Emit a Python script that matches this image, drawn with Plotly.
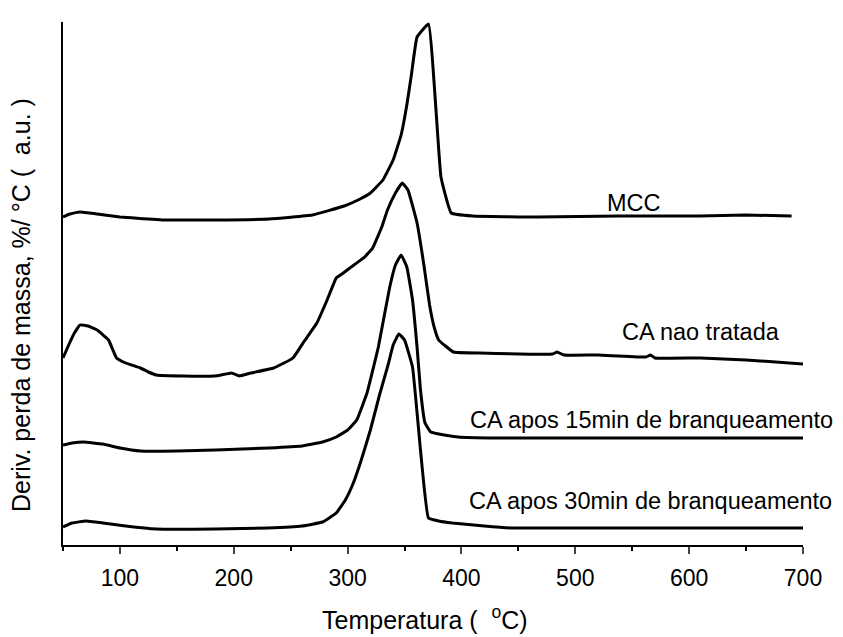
import plotly.graph_objects as go

# Temperature (°C) and derivative mass loss (arbitrary units, offset curves)
mcc_T = [50, 56, 65, 80, 100, 113, 140, 184, 231, 269, 297, 311, 320, 331, 340, 347, 352, 356, 361, 371, 382, 391, 410, 467, 538, 609, 650, 690]
mcc_v = [328, 331, 333, 331, 328, 327, 325, 325, 326, 330, 339, 346, 352, 365, 385, 410, 440, 470, 508, 521, 368, 332, 329, 328, 329, 329, 330, 329]

nao_T = [50, 55, 60, 65, 72, 80, 90, 97, 105, 118, 125, 132, 155, 183, 189, 198, 205, 215, 235, 252, 262, 273, 282, 290, 295, 302, 315, 322, 330, 335, 342, 348, 353, 361, 367, 372, 376, 380, 393, 416, 480, 484, 490, 520, 562, 566, 570, 610, 650, 700]
nao_v = [187, 200, 212, 220, 219, 215, 205, 187, 182, 177, 173, 170, 169, 169, 170, 172, 169, 172, 177, 187, 204, 222, 245, 267, 271, 277, 288, 297, 318, 335, 352, 362, 355, 322, 280, 240, 218, 205, 193, 192, 191, 193, 190, 190, 188, 190, 187, 187, 185, 181]

m15_T = [50, 58, 68, 85, 100, 118, 150, 184, 231, 260, 278, 290, 300, 308, 317, 327, 337, 342, 347, 352, 357, 361, 364, 368, 373, 385, 397, 430, 468, 550, 620, 700]
m15_v = [100, 102, 103, 101, 97, 94, 94, 95, 97, 99, 103, 108, 115, 125, 152, 198, 258, 280, 290, 278, 245, 198, 155, 122, 113, 110, 108, 107, 107, 107, 107, 107]

m30_T = [50, 58, 70, 85, 105, 132, 184, 230, 260, 278, 290, 298, 305, 312, 320, 328, 336, 340, 345, 350, 357, 364, 371, 380, 392, 420, 444, 550, 620, 700]
m30_v = [18, 22, 24, 22, 19, 16, 16, 17, 19, 23, 32, 45, 62, 85, 115, 150, 182, 200, 211, 205, 178, 95, 27, 24, 22, 19, 17, 17, 17, 17]

x_ticks = [100, 200, 300, 400, 500, 600, 700]

labels = ["MCC", "CA nao tratada", "CA apos 15min de branqueamento", "CA apos 30min de branqueamento"]
label_x = [634, 701, 651, 650]
label_y = [203, 332, 420, 501]

x_title = "Temperatura (  <sup>o</sup>C)"
y_title = "Deriv. perda de massa, %/ °C (  a.u. )"

# page body adds an 8px offset; work in window pixels and subtract it
OFF = 8
W, H = 843 - OFF, 637 - OFF
L, Tp = 63 - OFF, 22 - OFF
R = W - (803 - OFF)
B = H - (545 - OFF)
pw, ph = W - L - R, H - Tp - B

def px_x(p):
    return (p - OFF - L) / pw

def px_y(p):
    return 1 - (p - OFF - Tp) / ph

FONT = "Liberation Sans, Arial"

fig = go.Figure()
for T, v in [(mcc_T, mcc_v), (nao_T, nao_v), (m15_T, m15_v), (m30_T, m30_v)]:
    fig.add_trace(go.Scatter(x=T, y=v, mode="lines",
                             line=dict(color="black", width=3, shape="spline", smoothing=0.3),
                             showlegend=False, hoverinfo="skip"))

for txt, px, py in zip(labels, label_x, label_y):
    fig.add_annotation(text=txt, x=px_x(px), y=px_y(py), xref="paper", yref="paper",
                       xanchor="center", yanchor="middle", showarrow=False,
                       font=dict(size=23.5, color="black", family=FONT))

fig.add_annotation(text=x_title, x=px_x(425), y=px_y(618), xref="paper", yref="paper",
                   xanchor="center", yanchor="middle", showarrow=False,
                   font=dict(size=25, color="black", family=FONT))
fig.add_annotation(text=y_title, x=px_x(21), y=px_y(305), xref="paper", yref="paper",
                   xanchor="center", yanchor="middle", showarrow=False, textangle=-90,
                   font=dict(size=25, color="black", family=FONT))

fig.update_layout(
    width=W, height=H,
    margin=dict(l=L, r=R, t=Tp, b=B, autoexpand=False),
    plot_bgcolor="white", paper_bgcolor="white",
    font=dict(family=FONT, color="black", size=23),
    xaxis=dict(range=[50, 700], tickvals=x_ticks, ticks="outside", ticklen=7, tickwidth=1.5,
               showline=True, linecolor="black", linewidth=2, showgrid=False, zeroline=False,
               minor=dict(dtick=50, tick0=50, ticks="outside", ticklen=4, tickwidth=1.5, tickcolor="black"),
               tickfont=dict(size=23), ticklabelstandoff=4, automargin=False),
    yaxis=dict(range=[0, 523], showticklabels=False, ticks="", showline=True, linecolor="black", linewidth=2,
               showgrid=False, zeroline=False, automargin=False),
)

fig.write_html("out.html")
